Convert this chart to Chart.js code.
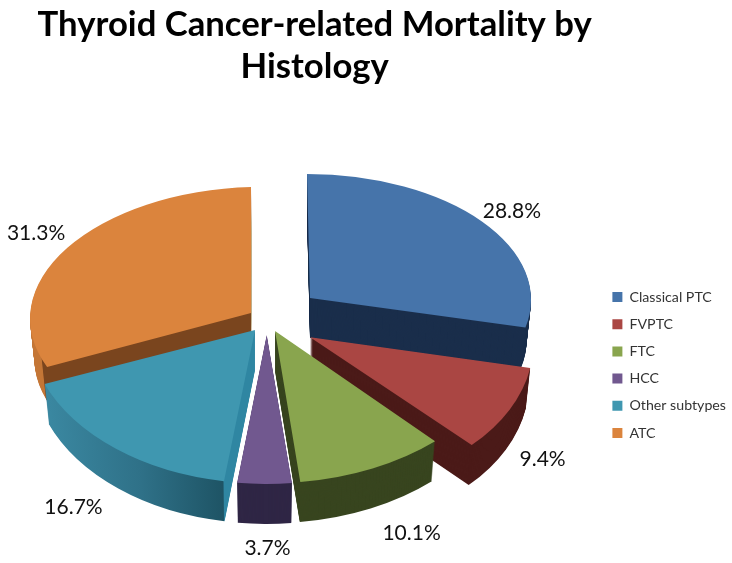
<!DOCTYPE html>
<html>
<head>
<meta charset="utf-8">
<script src="https://cdn.jsdelivr.net/npm/chart.js@4"></script>
<style>
  html, body { margin: 0; background: #fff; }
  canvas { display: block; }
</style>
</head>
<body>
<canvas id="mortality" width="732" height="563"></canvas>
<script>
const categories = ["Classical PTC", "FVPTC", "FTC", "HCC", "Other subtypes", "ATC"];
const mortality = [28.8, 9.4, 10.1, 3.7, 16.7, 31.3];

const topColors = ["#4674aa", "#aa4643", "#89a54e", "#71588f", "#3f97b0", "#db843d"];
const wallColors = ["#1a2e4b", "#4b1a18", "#38451f", "#2f2645", null, null];

// look of the tilted pie, per slice
const center = { x: 267, y: 316 };
const depth = 40;
const taper = 0.02; // the underside looks a bit narrower
const rimX = [221, 223, 237, 236, 227, 221];
const rimY = [124, 151, 152, 149, 153, 126];
const skewX = [3, 15, 0, 0, -2.6, 0];
const skewY = [0, -5, -3, 0, 5.4, -5.8];
const explode = [54.7, 50, 19.5, 30, 19.8, 19.2];
const explodeTilt = [0.53, 0.83, 0.85, 0.63, 0.89, 0.28];
const labelNudgeX = [30, 33, 39, 3, -42, -31];
const labelNudgeY = [-10, 50, 65, 64, 59, -15];
const paintOrder = [0, 5, 1, 4, 2, 3];

function midAngle(arc) {
  return (arc.startAngle + arc.endAngle) / 2 + Math.PI / 2;
}

function apexOf(arc, i) {
  const a = midAngle(arc);
  return {
    x: center.x + explode[i] * Math.sin(a),
    y: center.y - explode[i] * Math.cos(a) * explodeTilt[i],
  };
}

function paintArc(ctx, arc, i, color, lift) {
  const apex = apexOf(arc, i);
  const r = arc.outerRadius;
  const narrow = 1 - (taper * lift) / depth;
  const saved = arc.options;
  ctx.save();
  ctx.translate(apex.x, apex.y + lift);
  ctx.transform((rimX[i] * narrow) / r, skewY[i] / r, skewX[i] / r, rimY[i] / r, 0, 0);
  ctx.translate(-arc.x, -arc.y);
  arc.options = { ...saved, backgroundColor: color };
  arc.draw(ctx);
  arc.options = saved;
  ctx.restore();
}

function wallPaint(ctx, arc, i) {
  if (wallColors[i]) return wallColors[i];
  const g = ctx.createLinearGradient(arc.x - arc.outerRadius, 0, arc.x, 0);
  if (i === 4) {
    g.addColorStop(0.09, "#3a87a0");
    g.addColorStop(0.5, "#2f7188");
    g.addColorStop(0.87, "#1e5465");
    g.addColorStop(0.875, "#2f86a2");
  } else {
    g.addColorStop(0, "#c47636");
    g.addColorStop(0.05, "#c47636");
    g.addColorStop(0.055, "#7a451e");
  }
  return g;
}

const pie3d = {
  id: "pie3d",
  beforeDatasetsDraw(chart) {
    const ctx = chart.ctx;
    const arcs = chart.getDatasetMeta(0).data;
    paintOrder.forEach((i) => {
      const arc = arcs[i];
      for (let lift = depth; lift > 0; lift--) {
        paintArc(ctx, arc, i, wallPaint(ctx, arc, i), lift);
      }
      paintArc(ctx, arc, i, topColors[i], 0);
    });

    // percentage labels sit outside the rim
    ctx.save();
    ctx.fillStyle = "#111";
    ctx.font = "21px Lato";
    ctx.textAlign = "center";
    ctx.textBaseline = "middle";
    arcs.forEach((arc, i) => {
      const a = midAngle(arc);
      const apex = apexOf(arc, i);
      const sx = Math.sin(a);
      const sy = -Math.cos(a);
      const x = apex.x + rimX[i] * sx + skewX[i] * sy + labelNudgeX[i];
      const y = apex.y + skewY[i] * sx + rimY[i] * sy + labelNudgeY[i];
      ctx.fillText(mortality[i].toFixed(1) + "%", x, y);
    });
    ctx.restore();
    return false;
  },
};

new Chart(document.getElementById("mortality"), {
  type: "pie",
  data: {
    labels: categories,
    datasets: [{ data: mortality, backgroundColor: topColors, borderWidth: 0 }],
  },
  options: {
    responsive: false,
    animation: false,
    layout: { padding: { left: 30, right: -4 } },
    plugins: {
      title: {
        display: true,
        fullSize: false,
        text: ["Thyroid Cancer-related Mortality by", "Histology"],
        color: "#000",
        font: { family: "Lato", size: 34.7, weight: "bold", lineHeight: 1.21 },
        padding: { top: 4, bottom: 79 },
      },
      legend: {
        position: "right",
        fullSize: false,
        labels: {
          boxWidth: 10,
          boxHeight: 10,
          padding: 13,
          color: "#333",
          font: { family: "Lato", size: 14.2 },
        },
      },
      tooltip: { enabled: false },
    },
  },
  plugins: [pie3d],
});
</script>
</body>
</html>
